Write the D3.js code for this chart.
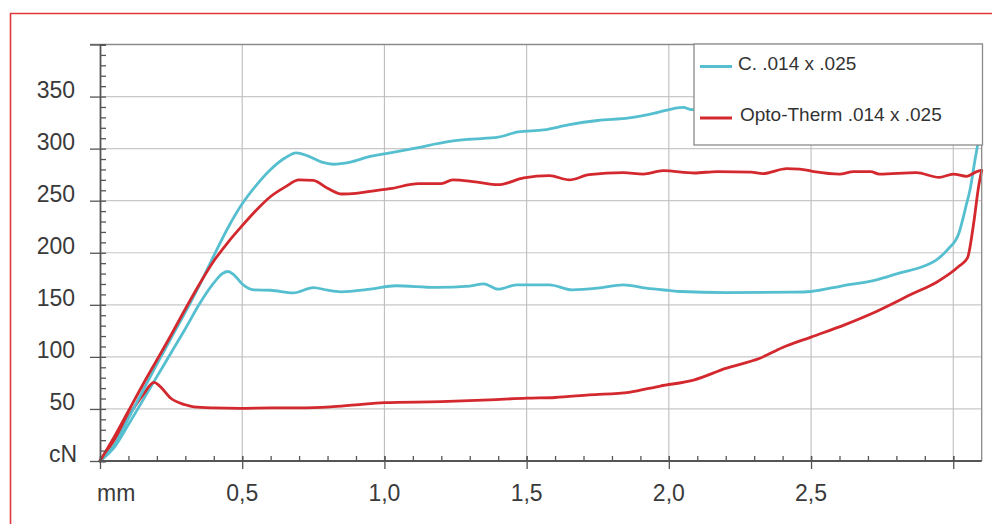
<!DOCTYPE html>
<html>
<head>
<meta charset="utf-8">
<script src="https://cdn.jsdelivr.net/npm/d3@7/dist/d3.min.js"></script>
<style>
  html, body { margin: 0; padding: 0; background: #fff; }
  svg { display: block; }
</style>
</head>
<body>
<svg id="chart" width="992" height="524"></svg>
<script>
// ---- data (mm, cN) ----
const seriesNames = ["C. .014 x .025", "Opto-Therm .014 x .025"];
const seriesColors = ["#55bfd0", "#d3282d"];

const cyanLoading = [
  [0,0],[0.05,15],[0.1,41],[0.15,67],[0.2,93],[0.25,118],[0.3,143],[0.35,169],[0.4,197],
  [0.45,224],[0.5,247],[0.55,265],[0.6,280],[0.65,291],[0.69,296],[0.73,293],[0.78,287],
  [0.82,285],[0.88,287],[0.95,292.5],[1.0,295],[1.1,300],[1.23,307],[1.3,309],[1.4,311],
  [1.47,316],[1.56,318],[1.65,323],[1.75,327],[1.86,329.5],[1.95,334],[2.05,339.7],[2.08,337.5],
  [2.2,340],[2.4,343],[2.6,345],[2.8,347],[3.0,349],[3.1,352]
];
const cyanUnloading = [
  [0,0],[0.05,13],[0.1,35],[0.15,58],[0.2,81],[0.25,104],[0.3,127],[0.35,151],
  [0.4,171],[0.43,180],[0.45,182],[0.47,179],[0.5,170],[0.54,164.4],[0.6,164],[0.68,161.5],[0.75,166.6],
  [0.8,164],[0.845,162.5],[0.95,165],[1.04,168.3],[1.18,166.7],[1.3,168],[1.35,170.2],[1.4,165],
  [1.465,169.2],[1.58,169.2],[1.66,164.4],[1.75,166],[1.84,169.2],[1.92,166],[2.0,163.8],
  [2.04,162.8],[2.2,161.8],[2.44,162.2],[2.5,162.8],[2.61,168.3],[2.73,174],[2.81,180.5],
  [2.9,187.5],[2.94,193],[2.98,203],[3.02,219],[3.045,245],[3.06,262],[3.075,287],[3.09,312],[3.1,340]
];
const redLoading = [
  [0,0],[0.05,23],[0.1,48],[0.15,73],[0.2,97],[0.25,121],[0.3,146],[0.35,170],[0.4,192],
  [0.45,210],[0.5,226],[0.55,241],[0.6,254],[0.65,263],[0.7,270],[0.75,269.5],[0.8,262],
  [0.85,256.4],[0.9,257],[0.95,259],[1.02,261.5],[1.12,266.3],[1.2,266.3],[1.24,270],
  [1.32,268],[1.4,265.4],[1.49,271.8],[1.58,274],[1.65,270],[1.72,275],[1.84,277],
  [1.91,275.6],[1.98,278.8],[2.09,276.6],[2.17,278],[2.29,277.5],[2.33,276],[2.415,280.8],
  [2.46,280.4],[2.51,278],[2.6,275.6],[2.65,278],[2.71,277.9],[2.74,275.6],[2.87,277],
  [2.95,272.4],[3.0,275.6],[3.047,273.4],[3.083,278],[3.1,279]
];
const redUnloading = [
  [0,0],[0.05,20],[0.1,43],[0.15,63],[0.19,75.5],[0.21,72],[0.25,60],[0.3,54],[0.33,52],
  [0.4,51],[0.49,50.6],[0.6,51],[0.7,51],[0.81,52],[0.9,54],[1.0,56],[1.2,57],[1.37,58.7],
  [1.5,60.3],[1.6,61],[1.72,63.5],[1.86,66],[1.97,72],[2.09,78],[2.2,89],[2.32,98.7],
  [2.4,109],[2.5,119],[2.62,131],[2.73,143.6],[2.86,161],[2.94,171.5],[3.02,187],
  [3.05,195],[3.07,225],[3.09,265],[3.1,279]
];

const yTickValues = [50,100,150,200,250,300,350];
const yTickLabels = ["50","100","150","200","250","300","350"];
const xTickValues = [0.5,1.0,1.5,2.0,2.5];
const xTickLabels = ["0,5","1,0","1,5","2,0","2,5"];
const xUnit = "mm", yUnit = "cN";

// ---- layout ----
const svg = d3.select("#chart");
const x = d3.scaleLinear().domain([0, 3.1]).range([100, 981.7]);
const y = d3.scaleLinear().domain([0, 400]).range([461, 44.5]);
const font = "'Liberation Sans', Arial, sans-serif";

// red frame
svg.append("path").attr("d", "M10.5,530 L10.5,13.5 L1000,13.5")
  .attr("fill", "none").attr("stroke", "#e0383f").attr("stroke-width", 1.6);

// grid
const grid = svg.append("g");
grid.selectAll("line.h").data(d3.range(50, 400, 50)).join("line")
  .attr("x1", x(0)).attr("x2", x(3.1)).attr("y1", d => y(d)).attr("y2", d => y(d))
  .attr("stroke", "#c8c8c8").attr("stroke-width", 1.2);
grid.selectAll("line.v").data([0.5,1.0,1.5,2.0,2.5,3.0]).join("line")
  .attr("y1", y(0)).attr("y2", y(400)).attr("x1", d => x(d)).attr("x2", d => x(d))
  .attr("stroke", "#bdbdbd").attr("stroke-width", 1.1);

// curves
const line = d3.line().x(d => x(d[0])).y(d => y(d[1])).curve(d3.curveMonotoneX);
const curves = [
  [cyanUnloading, seriesColors[0]], [redUnloading, seriesColors[1]],
  [cyanLoading, seriesColors[0]], [redLoading, seriesColors[1]]
];
svg.append("g").selectAll("path").data(curves).join("path")
  .attr("d", d => line(d[0])).attr("fill", "none")
  .attr("stroke", d => d[1]).attr("stroke-width", 2.8)
  .attr("stroke-linejoin", "round").attr("stroke-linecap", "round");

// frame top/right
svg.append("path")
  .attr("d", `M${x(0)-10},${y(400)} L${x(3.1)},${y(400)} L${x(3.1)},${y(0)}`)
  .attr("fill", "none").attr("stroke", "#8a8a8a").attr("stroke-width", 1.3);

// axes
const axisColor = "#555";
const yAxis = d3.axisRight(y).tickValues(d3.range(0, 401, 10)).tickSize(6).tickFormat("");
const gy = svg.append("g").attr("transform", `translate(${x(0)},0)`).call(yAxis);
gy.select(".domain").attr("stroke", axisColor).attr("stroke-width", 1.8);
gy.selectAll(".tick line").attr("stroke", axisColor).attr("stroke-width", 1.3);
const yMajor = d3.axisLeft(y).tickValues(d3.range(0, 401, 50)).tickSize(10).tickFormat("");
const gy2 = svg.append("g").attr("transform", `translate(${x(0)},0)`).call(yMajor);
gy2.select(".domain").remove();
gy2.selectAll(".tick line").attr("stroke", axisColor).attr("stroke-width", 1.3);

const xMinor = d3.axisTop(x).tickValues(d3.range(0, 31, 1).map(d => d / 10)).tickSize(5).tickFormat("");
const gx = svg.append("g").attr("transform", `translate(0,${y(0)})`).call(xMinor);
gx.select(".domain").attr("stroke", axisColor).attr("stroke-width", 1.8)
  .attr("d", `M${x(0)},0H${x(3.1)}`);
gx.selectAll(".tick line").attr("stroke", axisColor).attr("stroke-width", 1.3);
const xMajor = d3.axisBottom(x).tickValues([0,0.5,1,1.5,2,2.5,3]).tickSize(8).tickFormat("");
const gx2 = svg.append("g").attr("transform", `translate(0,${y(0)})`).call(xMajor);
gx2.select(".domain").remove();
gx2.selectAll(".tick line").attr("stroke", axisColor).attr("stroke-width", 1.3)
  .attr("y1", -5);

// tick labels
const labelColor = "#3a3a3a";
const fs = 23;
svg.append("g").selectAll("text").data(yTickValues).join("text")
  .attr("x", 75).attr("y", d => y(d) + 1).attr("text-anchor", "end")
  .attr("font-family", font).attr("font-size", fs).attr("fill", labelColor)
  .text((d, i) => yTickLabels[i]);
svg.append("text").attr("x", 77).attr("y", y(0) + 1).attr("text-anchor", "end")
  .attr("font-family", font).attr("font-size", fs).attr("fill", labelColor).text(yUnit);
svg.append("g").selectAll("text").data(xTickValues).join("text")
  .attr("x", d => x(d)).attr("y", 501).attr("text-anchor", "middle")
  .attr("font-family", font).attr("font-size", fs).attr("fill", labelColor)
  .text((d, i) => xTickLabels[i]);
svg.append("text").attr("x", 97).attr("y", 501).attr("text-anchor", "start")
  .attr("font-family", font).attr("font-size", fs).attr("fill", labelColor).text(xUnit);

// legend
const lg = svg.append("g");
lg.append("rect").attr("x", 694).attr("y", 44).attr("width", 288.5).attr("height", 101)
  .attr("fill", "#fff").attr("stroke", "#8a8a8a").attr("stroke-width", 1.3);
const legendRows = [66.5, 118];
seriesNames.forEach((name, i) => {
  lg.append("line").attr("x1", 700).attr("x2", 732).attr("y1", legendRows[i]).attr("y2", legendRows[i])
    .attr("stroke", seriesColors[i]).attr("stroke-width", 3);
  lg.append("text").attr("x", i === 0 ? 738 : 740).attr("y", legendRows[i] - 3.5)
    .attr("dominant-baseline", "central")
    .attr("font-family", font).attr("font-size", 19).attr("fill", "#333").text(name);
});
</script>
</body>
</html>
